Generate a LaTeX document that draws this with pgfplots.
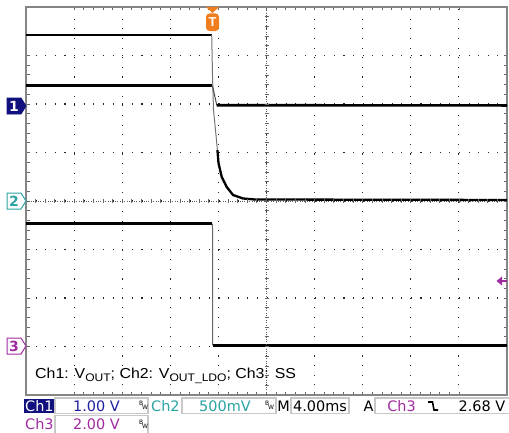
\documentclass[border=0pt]{standalone}
\usepackage{pgfplots}
\pgfplotsset{compat=1.18}
\usepackage{fontspec}
\setmainfont{Liberation Sans}
\newfontfamily\stat{DejaVu Sans}
\definecolor{chone}{HTML}{10107E}
\definecolor{chonetxt}{HTML}{1E1EA0}
\definecolor{chtwo}{HTML}{2AA3A3}
\definecolor{chthree}{HTML}{A02AA0}
\definecolor{trig}{HTML}{F07E1E}
\definecolor{framec}{HTML}{858585}
\definecolor{boxc}{HTML}{C8C8C8}
\newcommand{\bw}[2]{%
  \node[inner sep=0, font=\stat\fontsize{6}{6}\selectfont, anchor=south west] at (#1,#2+5) {B};
  \node[inner sep=0, font=\stat\fontsize{6}{6}\selectfont, anchor=south west] at (#1+3,#2+1) {W};}
\begin{document}
\begin{tikzpicture}[x=1bp,y=1bp]
\begin{axis}[
  at={(26bp,37bp)}, anchor=south west,
  scale only axis, width=481bp, height=388bp,
  xmin=-5, xmax=5, ymin=-4, ymax=4,
  xtick={-4,...,4}, ytick={-3,...,3},
  minor tick num=4,
  xticklabels={}, yticklabels={},
  tick align=inside, major tick length=3.5bp, minor tick length=3.5bp,
  tick style={black!60, line width=0.8bp},
  grid=major,
  major grid style={black!85, line width=1.1bp, dash pattern=on 1.1bp off 8.52bp},
  axis line style={framec, line width=2.6bp},
  clip=false,
]
% Trace A (Ch2: V_OUT_LDO)
\addplot[black, line width=2.6bp] coordinates {(-5,3.423) (-1.139,3.423)};
\addplot[black!55, line width=1.0bp] coordinates {(-1.139,3.423) (-1.123,2.598) (-1.102,1.876) (-1.040,1.258) (-0.998,0.784)};
\addplot[black, line width=2.3bp] coordinates {(-1.020,1.05) (-0.998,0.784) (-0.931,0.495) (-0.827,0.289) (-0.696,0.124) (-0.489,0.052) (-0.239,0.031) (5,0.021)};
% Trace B (Ch1: V_OUT)
\addplot[black, line width=2.6bp] coordinates {(-5,2.381) (-1.139,2.381)};
\addplot[black!70, line width=1.0bp] coordinates {(-1.139,2.381) (-1.112,2.330) (-1.035,1.979)};
\addplot[black, line width=2.6bp] coordinates {(-1.035,1.975) (5,1.97)};
% Trace C (Ch3: SS)
\addplot[black, line width=2.6bp] coordinates {(-5,-0.464) (-1.123,-0.464)};
\addplot[black!60, line width=1.0bp] coordinates {(-1.123,-0.464) (-1.118,-2.979)};
\addplot[black, line width=2.6bp] coordinates {(-1.118,-2.979) (5,-2.979)};
\end{axis}
% centre cross decoration
\draw[black!65, line width=0.8bp, dash pattern=on 0.8bp off 1.6bp] (26,231) -- (507,231);
\draw[black!65, line width=0.8bp, dash pattern=on 0.8bp off 1.6bp] (266.5,37) -- (266.5,425);
\foreach \i in {1,...,49} {\draw[black!60, line width=0.8bp] (26+\i*9.62,229) -- (26+\i*9.62,233);}
\foreach \i in {1,...,39} {\draw[black!60, line width=0.8bp] (264.5,37+\i*9.7) -- (268.5,37+\i*9.7);}
% in-plot caption
\node[anchor=base west, inner sep=0, font=\fontsize{14.5}{14.5}\selectfont, xscale=1.1] at (35,53.5)
  {Ch1: V\raisebox{-2.5bp}{\fontsize{11}{11}\selectfont OUT}; Ch2: V\raisebox{-2.5bp}{\fontsize{11}{11}\selectfont OUT\_LDO}; Ch3: SS};
% trigger position marker
\fill[trig] (206,425) -- (219,425) -- (212.5,419) -- cycle;
\fill[trig, rounded corners=3.5bp] (206,418.5) rectangle (219,401);
\node[white, font=\bfseries\fontsize{13}{13}\selectfont, inner sep=0] at (212.5,409.5) {T};
% channel markers
\filldraw[fill=chone, draw=chone, line width=0.8bp] (7,334) -- (21,334) -- (26,326) -- (21,318) -- (7,318) -- cycle;
\node[white, font=\stat\bfseries\fontsize{14}{14}\selectfont, inner sep=0] at (14,326) {1};
\filldraw[fill=white, draw=chtwo, line width=1bp] (7,239) -- (21,239) -- (26,231) -- (21,223) -- (7,223) -- cycle;
\node[chtwo, font=\stat\bfseries\fontsize{14}{14}\selectfont, inner sep=0] at (14,231) {2};
\filldraw[fill=white, draw=chthree, line width=1bp] (7,94) -- (21,94) -- (26,86) -- (21,78) -- (7,78) -- cycle;
\node[chthree, font=\stat\bfseries\fontsize{14}{14}\selectfont, inner sep=0] at (14,86) {3};
% trigger level arrow
\fill[chthree] (496.5,151) -- (502,155.5) -- (502,146.5) -- cycle;
\draw[chthree, line width=1.2bp] (502,151) -- (507,151);
% status bar row 1
\fill[chone] (24,19) rectangle (53.5,33.5);
\node[white, anchor=base west, inner sep=0, font=\stat\fontsize{14.5}{14.5}\selectfont] at (25,21) {Ch1};
\draw[boxc, line width=1.2bp] (55,18.5) rectangle (148,34);
\node[chonetxt, anchor=base, inner sep=0, font=\stat\fontsize{14.5}{14.5}\selectfont] at (96.5,21) {1.00 V};
\bw{139}{21}
\node[chtwo, anchor=base west, inner sep=0, font=\stat\fontsize{14.5}{14.5}\selectfont] at (151,21) {Ch2};
\draw[boxc, line width=1.2bp] (182,18.5) rectangle (276,34);
\node[chtwo, anchor=base, inner sep=0, font=\stat\fontsize{14.5}{14.5}\selectfont] at (225,21) {500mV};
\bw{265}{21}
\node[black, anchor=base, inner sep=0, font=\stat\fontsize{14.5}{14.5}\selectfont] at (283.5,21) {M};
\draw[boxc, line width=1.2bp] (291,18.5) rectangle (349,34);
\node[black, anchor=base, inner sep=0, font=\stat\fontsize{14.5}{14.5}\selectfont] at (320,21) {4.00ms};
\node[black, anchor=base, inner sep=0, font=\stat\fontsize{14.5}{14.5}\selectfont] at (368.5,21) {A};
\draw[boxc, line width=1.2bp] (375,18.5) -- (375,34) -- (512,34);
\draw[boxc, line width=1.2bp] (375,18.5) -- (512,18.5);
\node[chthree, anchor=base, inner sep=0, font=\stat\fontsize{14.5}{14.5}\selectfont] at (401.5,21) {Ch3};
\draw[black, line width=1.6bp] (428,30) -- (432.5,30) -- (434,22) -- (438,22);
\node[black, anchor=base, inner sep=0, font=\stat\fontsize{14.5}{14.5}\selectfont] at (482,21) {2.68 V};
% status bar row 2
\node[chthree, anchor=base west, inner sep=0, font=\stat\fontsize{14.5}{14.5}\selectfont] at (25,2.5) {Ch3};
\draw[boxc, line width=1.2bp] (55,-1) -- (55,16.5) -- (148,16.5) -- (148,-1);
\node[chthree, anchor=base, inner sep=0, font=\stat\fontsize{14.5}{14.5}\selectfont] at (96.5,2.5) {2.00 V};
\bw{139}{2.5}
\pgfresetboundingbox
\useasboundingbox (0,0) rectangle (509,432);
\end{tikzpicture}
\end{document}
